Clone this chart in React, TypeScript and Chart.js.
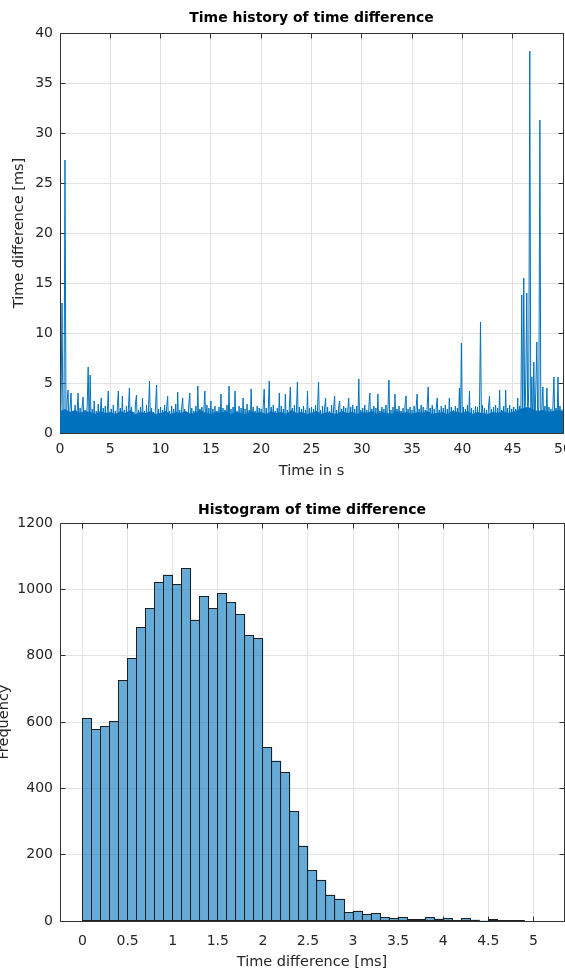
import React, { useEffect, useRef } from "react";
import { Chart, registerables } from "chart.js";

Chart.register(...registerables);

// ---------- data ----------
const sampleStep = 0.1; // seconds between plotted samples

const timeDiff00to05 = [
  0.3, 2.6, 13.0, 0.5, 2.4, 27.3, 0.4, 3.0, 4.3, 0.2,
  2.6, 4.0, 0.3, 2.2, 0.1, 2.8, 0.4, 2.1, 4.0, 0.2,
  2.5, 0.3, 2.7, 3.6, 0.2, 2.3, 0.4, 2.6, 6.6, 0.3,
  5.8, 0.2, 2.4, 0.5, 3.2, 0.1, 2.2, 0.3, 2.9, 0.2,
  2.0, 3.5, 0.4, 2.5, 0.2, 2.7, 0.3, 2.1, 4.2, 0.1,
];
const timeDiff05to10 = [
  0.2, 2.4, 0.3, 2.8, 0.1, 2.2, 0.4, 2.6, 4.2, 0.2,
  2.5, 0.3, 3.7, 0.2, 2.3, 0.5, 2.7, 0.1, 2.4, 4.5,
  0.3, 2.6, 0.2, 2.1, 0.4, 2.9, 3.8, 0.2, 2.3, 0.3,
  2.6, 0.1, 3.5, 0.4, 2.2, 0.2, 2.8, 0.3, 2.4, 5.2,
  0.2, 2.5, 0.4, 2.1, 0.3, 2.7, 4.8, 0.1, 2.4, 0.3,
];
const timeDiff10to15 = [
  2.6, 0.2, 2.3, 0.4, 2.8, 0.1, 2.5, 3.7, 0.3, 2.2,
  0.2, 2.7, 0.4, 2.4, 0.1, 2.9, 0.3, 4.1, 0.2, 2.3,
  0.5, 2.6, 3.5, 0.2, 2.4, 0.3, 2.1, 0.1, 2.8, 4.0,
  0.3, 2.5, 0.2, 2.2, 0.4, 2.7, 0.2, 4.7, 0.3, 2.4,
  0.1, 2.6, 0.3, 2.3, 4.2, 0.2, 2.8, 0.4, 2.5, 0.2,
];
const timeDiff15to20 = [
  3.2, 0.3, 2.4, 0.2, 2.7, 0.4, 2.2, 0.1, 2.6, 0.3,
  3.9, 0.2, 2.5, 0.4, 2.3, 0.2, 2.8, 0.3, 4.7, 0.1,
  2.4, 0.3, 2.6, 0.2, 4.2, 0.4, 2.2, 0.2, 2.7, 0.3,
  2.5, 0.1, 3.5, 0.3, 2.4, 0.2, 2.9, 0.4, 2.3, 0.2,
  4.4, 0.3, 2.6, 0.1, 2.2, 0.4, 2.7, 0.2, 2.5, 0.3,
];
const timeDiff20to25 = [
  2.4, 0.2, 2.7, 4.4, 0.3, 2.5, 0.1, 2.3, 5.2, 0.4,
  2.6, 0.2, 2.8, 0.3, 2.2, 0.1, 2.5, 0.4, 4.0, 0.2,
  2.7, 0.3, 2.4, 0.2, 3.9, 0.4, 2.3, 0.1, 2.6, 4.6,
  0.3, 2.5, 0.2, 2.8, 0.4, 2.2, 5.1, 0.3, 2.6, 0.1,
  2.4, 0.3, 2.7, 0.2, 2.3, 0.4, 4.2, 0.2, 2.5, 0.3,
];
const timeDiff25to30 = [
  2.6, 0.2, 2.4, 0.3, 2.8, 0.1, 2.5, 5.1, 0.4, 2.3,
  0.2, 2.7, 0.3, 2.4, 3.5, 0.2, 2.6, 0.4, 2.2, 0.1,
  2.8, 0.3, 2.5, 3.7, 0.2, 2.3, 0.4, 2.6, 3.2, 0.1,
  2.4, 0.3, 2.7, 0.2, 2.5, 0.4, 2.2, 3.5, 0.3, 2.6,
  0.1, 2.8, 0.2, 2.4, 0.3, 2.7, 0.4, 5.4, 0.2, 2.3,
];
const timeDiff30to35 = [
  0.3, 2.5, 0.2, 2.8, 0.4, 2.3, 0.1, 2.6, 4.0, 0.3,
  2.4, 0.2, 2.7, 0.4, 2.5, 0.1, 3.9, 0.3, 2.2, 0.2,
  2.6, 0.4, 2.4, 0.1, 2.8, 0.3, 2.5, 5.3, 0.2, 2.3,
  0.4, 2.6, 0.1, 3.9, 0.3, 2.4, 0.2, 2.7, 0.4, 2.2,
  0.3, 2.5, 0.1, 2.8, 3.7, 0.2, 2.4, 0.3, 2.6, 0.4,
];
const timeDiff35to40 = [
  2.3, 0.2, 2.7, 0.3, 2.5, 3.9, 0.1, 2.4, 0.4, 2.8,
  0.2, 2.6, 0.3, 2.3, 0.1, 2.7, 4.6, 0.4, 2.5, 0.2,
  2.8, 0.3, 2.4, 0.1, 2.6, 3.5, 0.2, 2.3, 0.4, 2.7,
  0.3, 2.5, 0.2, 2.8, 0.1, 2.4, 0.3, 3.5, 0.2, 2.6,
  0.4, 2.3, 0.1, 2.7, 0.3, 2.5, 0.2, 4.5, 0.3, 9.0,
];
const timeDiff40to45 = [
  0.2, 2.6, 0.4, 2.4, 0.1, 2.8, 0.3, 4.2, 0.2, 2.5,
  0.4, 2.3, 0.1, 2.7, 0.3, 2.6, 0.2, 2.4, 11.1, 0.3,
  2.8, 0.1, 2.5, 0.4, 2.3, 0.2, 2.7, 3.7, 0.3, 2.4,
  0.1, 2.6, 0.4, 2.8, 0.2, 2.5, 0.3, 4.3, 0.1, 2.3,
  0.4, 2.7, 0.2, 4.3, 0.3, 2.5, 0.1, 2.8, 0.2, 2.4,
];
const timeDiff45to50 = [
  0.3, 2.6, 0.2, 2.4, 0.4, 3.5, 0.1, 2.7, 0.3, 13.8,
  0.5, 15.5, 0.4, 5.2, 14.0, 0.6, 4.8, 38.2, 0.5, 5.6,
  0.4, 7.1, 0.3, 4.5, 9.1, 0.2, 2.8, 31.3, 0.3, 2.5,
  4.6, 0.2, 2.7, 0.4, 4.5, 0.1, 2.6, 0.3, 2.4, 0.2,
  2.8, 5.6, 0.3, 2.5, 0.4, 5.6, 0.2, 2.7, 0.3, 2.4,
];

const timeDiffSegments = [
  timeDiff00to05, timeDiff05to10, timeDiff10to15, timeDiff15to20, timeDiff20to25,
  timeDiff25to30, timeDiff30to35, timeDiff35to40, timeDiff40to45, timeDiff45to50,
];

// upper edge of the dense (solid-looking) core of the signal, every 0.5 s
const bandStep = 0.5;
const denseBandTop = [
  2.2, 2.4, 2.1, 2.3, 2.0, 2.2, 2.1, 1.9, 2.2, 2.0,
  2.1, 1.9, 2.2, 2.0, 2.3, 1.9, 2.1, 2.0, 2.2, 1.9,
  2.0, 2.2, 1.9, 2.1, 2.0, 2.2, 1.9, 2.1, 2.3, 2.0,
  1.9, 2.1, 2.0, 2.2, 1.9, 2.1, 2.0, 1.9, 2.2, 2.0,
  2.1, 1.9, 2.2, 2.0, 2.1, 1.9, 2.3, 2.0, 2.1, 1.9,
  2.0, 2.2, 1.9, 2.1, 2.0, 1.9, 2.2, 2.0, 2.1, 1.9,
  2.1, 2.0, 2.2, 1.9, 2.1, 2.0, 1.9, 2.2, 2.0, 2.1,
  1.9, 2.1, 2.0, 2.2, 1.9, 2.0, 2.1, 1.9, 2.2, 2.1,
  2.0, 2.2, 1.9, 2.1, 2.0, 1.9, 2.1, 2.0, 2.2, 2.0,
  2.1, 2.3, 2.5, 2.6, 2.4, 2.2, 2.3, 2.1, 2.2, 2.3,
  2.2,
];

const histBinStart = 0;
const histBinWidth = 0.1;
const histCounts = [
  611, 578, 586, 601, 724, 792, 884, 942, 1020, 1043,
  1015, 1062, 907, 978, 942, 987, 959, 924, 860, 851,
  524, 482, 448, 331, 226, 151, 123, 78, 66, 25,
  30, 19, 23, 11, 8, 11, 5, 5, 11, 6,
  8, 2, 8, 3, 0, 5, 2, 2, 2,
];

const topXTicks = [0, 5, 10, 15, 20, 25, 30, 35, 40, 45, 50];
const topYTicks = [0, 5, 10, 15, 20, 25, 30, 35, 40];
const histXTicks = [0, 0.5, 1, 1.5, 2, 2.5, 3, 3.5, 4, 4.5, 5];
const histYTicks = [0, 200, 400, 600, 800, 1000, 1200];

const topTitle = "Time history of time difference";
const topXLabel = "Time in s";
const topYLabel = "Time difference [ms]";
const histTitle = "Histogram of time difference";
const histXLabel = "Time difference [ms]";
const histYLabel = "Frequency";

// ---------- styling ----------
const FAMILY = "'DejaVu Sans', 'Liberation Sans', sans-serif";
const TICK_COLOR = "#262626";
const GRID_COLOR = "#E2E2E2";
const AXIS_COLOR = "#333333";
const LINE_COLOR = "#0072BD";

const align = (p: number) => Math.round(p - 0.5) + 0.5;

function axesDecor(id: string, title: string, titleOffset: number) {
  return {
    id,
    beforeDatasetsDraw(chart: any) {
      const { ctx, chartArea: a, scales } = chart;
      const L = align(a.left), R = align(a.right), T = align(a.top), B = align(a.bottom);
      ctx.save();
      ctx.strokeStyle = AXIS_COLOR;
      ctx.lineWidth = 1;
      ctx.beginPath();
      ctx.rect(L, T, R - L, B - T);
      const tl = 5;
      scales.x.ticks.forEach((t: any) => {
        const px = align(scales.x.getPixelForValue(t.value));
        ctx.moveTo(px, B); ctx.lineTo(px, B - tl);
        ctx.moveTo(px, T); ctx.lineTo(px, T + tl);
      });
      scales.y.ticks.forEach((t: any) => {
        const py = align(scales.y.getPixelForValue(t.value));
        ctx.moveTo(L, py); ctx.lineTo(L + tl, py);
        ctx.moveTo(R, py); ctx.lineTo(R - tl, py);
      });
      ctx.stroke();
      ctx.restore();
    },
    afterDraw(chart: any) {
      const { ctx, chartArea: a } = chart;
      ctx.save();
      ctx.fillStyle = "#000000";
      ctx.font = `bold 14px ${FAMILY}`;
      ctx.textAlign = "center";
      ctx.textBaseline = "middle";
      ctx.fillText(title, (a.left + a.right) / 2, a.top - titleOffset);
      ctx.restore();
    },
  };
}

const histOutline = {
  id: "histOutline",
  afterDatasetsDraw(chart: any) {
    const { ctx } = chart;
    const meta = chart.getDatasetMeta(0);
    ctx.save();
    ctx.strokeStyle = "#1f1f1f";
    ctx.lineWidth = 1;
    meta.data.forEach((bar: any) => {
      const { x, y, base, width } = bar.getProps(["x", "y", "base", "width"], true);
      const l = align(x - width / 2), r = align(x + width / 2);
      const t = align(y), b = align(base);
      ctx.strokeRect(l, t, r - l, b - t);
    });
    ctx.restore();
  },
};

function axisCommon(tickVals: number[], tickPad: number) {
  return {
    afterBuildTicks: (s: any) => {
      s.ticks = tickVals.map((v) => ({ value: v }));
    },
    grid: { color: GRID_COLOR, lineWidth: 1, drawTicks: false, offset: false },
    border: { display: false },
    ticks: {
      padding: tickPad,
      color: TICK_COLOR,
      font: { family: FAMILY, size: 14 },
      autoSkip: false,
      maxRotation: 0,
      callback: (v: any) => String(v),
    },
  };
}

export default function App() {
  const topRef = useRef<HTMLCanvasElement>(null);
  const botRef = useRef<HTMLCanvasElement>(null);

  useEffect(() => {
    const samples = timeDiffSegments.flat();
    const points = samples.map((v, i) => ({ x: i * sampleStep, y: v }));
    const bandPoints = denseBandTop.map((v, i) => ({ x: i * bandStep, y: v }));

    const top = new Chart(topRef.current as HTMLCanvasElement, {
      type: "line",
      data: {
        datasets: [
          {
            data: points,
            borderColor: LINE_COLOR,
            borderWidth: 1,
            borderJoinStyle: "round",
            pointRadius: 0,
            tension: 0,
            fill: false,
          },
          {
            data: bandPoints,
            borderColor: LINE_COLOR,
            backgroundColor: LINE_COLOR,
            borderWidth: 0,
            pointRadius: 0,
            tension: 0,
            fill: "origin",
          },
        ],
      },
      options: {
        animation: false,
        responsive: false,
        devicePixelRatio: 1,
        events: [],
        layout: { padding: { top: 33, right: 37, left: 0, bottom: 0 } },
        plugins: { legend: { display: false }, tooltip: { enabled: false }, title: { display: false } },
        scales: {
          x: {
            type: "linear",
            min: 0,
            max: 50,
            afterFit: (s: any) => { s.height = 57; },
            ...axisCommon(topXTicks, 8),
            title: {
              display: true,
              text: topXLabel,
              color: TICK_COLOR,
              font: { family: FAMILY, size: 14.5 },
              padding: { top: 0, bottom: 10 },
            },
          },
          y: {
            type: "linear",
            min: 0,
            max: 40,
            afterFit: (s: any) => { s.width = 60; },
            ...axisCommon(topYTicks, 7),
            title: {
              display: true,
              text: topYLabel,
              color: TICK_COLOR,
              font: { family: FAMILY, size: 14.5 },
              padding: { top: 11, bottom: 0 },
            },
          },
        },
      } as any,
      plugins: [axesDecor("topDecor", topTitle, 14.5)],
    });

    const histData = histCounts.map((c, i) => ({
      x: histBinStart + (i + 0.5) * histBinWidth,
      y: c,
    }));

    const bottom = new Chart(botRef.current as HTMLCanvasElement, {
      type: "bar",
      data: {
        datasets: [
          {
            data: histData,
            backgroundColor: "rgba(0,114,189,0.6)",
            borderWidth: 0,
            barPercentage: 1,
            categoryPercentage: 1,
          },
        ],
      },
      options: {
        animation: false,
        responsive: false,
        devicePixelRatio: 1,
        events: [],
        layout: { padding: { top: 33, right: 36, left: 0, bottom: 0 } },
        plugins: { legend: { display: false }, tooltip: { enabled: false }, title: { display: false } },
        scales: {
          x: {
            type: "linear",
            min: -0.25,
            max: 5.34,
            offset: false,
            afterFit: (s: any) => { s.height = 69; },
            ...axisCommon(histXTicks, 11.5),
            title: {
              display: true,
              text: histXLabel,
              color: TICK_COLOR,
              font: { family: FAMILY, size: 14.5 },
              padding: { top: 0, bottom: 19 },
            },
          },
          y: {
            type: "linear",
            min: 0,
            max: 1200,
            afterFit: (s: any) => { s.width = 75; },
            ...axisCommon(histYTicks, 7),
            title: {
              display: true,
              text: histYLabel,
              color: TICK_COLOR,
              font: { family: FAMILY, size: 14.5 },
              padding: { top: 11, bottom: 0 },
            },
          },
        },
      } as any,
      plugins: [axesDecor("histDecor", histTitle, 12.5), histOutline],
    });

    return () => {
      top.destroy();
      bottom.destroy();
    };
  }, []);

  return (
    <div
      style={{
        position: "absolute",
        left: 0,
        top: 0,
        width: 565,
        height: 968,
        overflow: "hidden",
        background: "#ffffff",
      }}
    >
      <canvas
        ref={topRef}
        width={600}
        height={490}
        style={{ position: "absolute", left: 0, top: 0, width: 600, height: 490 }}
      />
      <canvas
        ref={botRef}
        width={615}
        height={500}
        style={{ position: "absolute", left: -15, top: 490, width: 615, height: 500 }}
      />
    </div>
  );
}
